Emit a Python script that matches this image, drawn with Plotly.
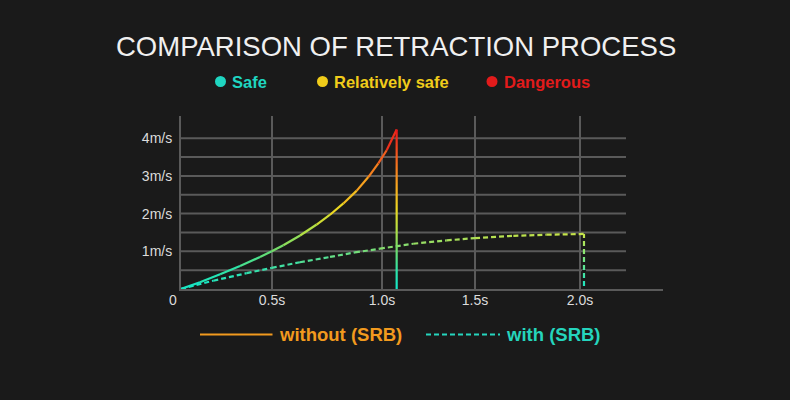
import plotly.graph_objects as go
from plotly.colors import sample_colorscale

# Farben
BG = "#1a1a1a"
GRID = "#5a5a5a"
TXT = "#dcdcdc"
C_SAFE = "#1fd6c1"
C_REL = "#f0cc1a"
C_DANGER = "#e21b1b"
C_ORANGE = "#f29a1e"
C_TEAL = "#25d5bd"

# Daten, Zeit in s, Geschwindigkeit in m/s
t_without = [0.0, 0.095, 0.196, 0.296, 0.396, 0.455, 0.513, 0.597, 0.680, 0.747,
             0.814, 0.881, 0.939, 0.989, 1.031, 1.081]
v_without = [0.0, 0.18, 0.39, 0.61, 0.85, 1.0, 1.16, 1.42, 1.71, 1.97,
             2.27, 2.61, 2.97, 3.33, 3.68, 4.23]

t_with = [0.0, 0.162, 0.329, 0.455, 0.596, 0.747, 0.872, 0.997, 1.164, 1.332,
          1.474, 1.666, 1.833, 2.020]
v_with = [0.0, 0.22, 0.42, 0.56, 0.71, 0.85, 0.97, 1.07, 1.20, 1.29,
          1.35, 1.41, 1.44, 1.46]

x_ticks = [0.456, 1.0075, 1.474, 2.0]
x_labels = ["0.5s", "1.0s", "1.5s", "2.0s"]
y_ticks = [1, 2, 3, 4]
y_labels = ["1m/s", "2m/s", "3m/s", "4m/s"]
grid_levels = [0.5, 1.0, 1.5, 2.0, 2.5, 3.0, 3.5, 4.0]

scale_without = [[0.0, "#14e6c8"], [0.12, "#2fe3a6"], [0.24, "#6ddc6e"], [0.38, "#b8e042"],
                 [0.5, "#ecd822"], [0.65, "#f7a51f"], [0.8, "#f46a1e"], [1.0, "#e8141b"]]
scale_with = [[0.0, "#14e6c8"], [0.25, "#3fe0a4"], [0.5, "#80dc72"], [0.75, "#b4e052"],
              [1.0, "#c8e448"]]

# Plotbereich in Pixeln
L, R, T, B = 181, 127, 116, 111
W, H = 790 - L - R, 400 - T - B
PX_S = 2.0 / 399        # Sekunden pro Pixel
PX_V = 1 / 37.7         # m/s pro Pixel


def px(x):
    return (x - L) / W


def py(y):
    return (400 - B - y) / H


fig = go.Figure()

# gestrichelte Kurve (mit SRB), Farbe entlang der Zeit
vmax_w = v_with[-1]
for i in range(len(t_with) - 1):
    f = (t_with[i] + t_with[i + 1]) / 2 / t_with[-1]
    fig.add_trace(go.Scatter(
        x=t_with[i:i + 2], y=v_with[i:i + 2], mode="lines",
        line=dict(color=sample_colorscale(scale_with, f)[0], width=2.2, dash="5px,3px"),
        hoverinfo="skip", showlegend=False))

tw = t_with[-1]
hw = 1.1 * PX_S
fig.add_trace(go.Scatter(
    x=[tw - hw, tw + hw, tw + hw, tw - hw, tw - hw], y=[0, 0, vmax_w, vmax_w, 0],
    mode="none", fill="toself",
    fillgradient=dict(type="vertical", colorscale=[[0, "#14e6c8"], [1, "#c8e448"]],
                      start=0, stop=vmax_w),
    hoverinfo="skip", showlegend=False))
fig.add_trace(go.Scatter(
    x=[tw, tw], y=[0, vmax_w], mode="lines",
    line=dict(color=BG, width=4, dash="3px,5px"),
    hoverinfo="skip", showlegend=False))

# durchgezogene Kurve (ohne SRB), Farbe nach Geschwindigkeit
vmax = v_without[-1]
for i in range(len(t_without) - 1):
    f = (v_without[i] + v_without[i + 1]) / 2 / vmax
    fig.add_trace(go.Scatter(
        x=t_without[i:i + 2], y=v_without[i:i + 2], mode="lines",
        line=dict(color=sample_colorscale(scale_without, f)[0], width=2.2),
        hoverinfo="skip", showlegend=False))

tp = t_without[-1]
fig.add_trace(go.Scatter(
    x=[tp - hw, tp + hw, tp + hw, tp - hw, tp - hw], y=[0, 0, vmax, vmax, 0],
    mode="none", fill="toself",
    fillgradient=dict(type="vertical", colorscale=scale_without, start=0, stop=vmax),
    hoverinfo="skip", showlegend=False))

# horizontale Gitterlinien (enden vor der Achse)
shapes = []
for g in grid_levels:
    shapes.append(dict(type="line", xref="x", yref="y", x0=0, x1=(626 - L) * PX_S,
                       y0=g, y1=g, line=dict(color=GRID, width=2), layer="below"))

# Legende oben
for xc, col in [(220.5, C_SAFE), (322.5, C_REL), (492, C_DANGER)]:
    shapes.append(dict(type="circle", xref="paper", yref="paper",
                       xsizemode="pixel", ysizemode="pixel",
                       xanchor=px(xc), yanchor=py(81.5), x0=-5.5, x1=5.5, y0=-5.5, y1=5.5,
                       fillcolor=col, line=dict(width=0)))
# Legende unten
shapes.append(dict(type="line", xref="paper", yref="paper", x0=px(200), x1=px(272.5),
                   y0=py(334.5), y1=py(334.5), line=dict(color=C_ORANGE, width=2)))
shapes.append(dict(type="line", xref="paper", yref="paper", x0=px(426), x1=px(500),
                   y0=py(334.5), y1=py(334.5), line=dict(color=C_TEAL, width=2, dash="5px,3px")))

annotations = [
    dict(text="COMPARISON OF RETRACTION PROCESS", xref="paper", yref="paper",
         x=px(396), y=py(46), xanchor="center", yanchor="middle", showarrow=False,
         font=dict(family="Liberation Sans, Arial", size=27.5, color="#f0f0f0")),
    dict(text="0", xref="paper", yref="paper", x=px(172.5), y=py(299.5),
         xanchor="center", yanchor="middle", showarrow=False,
         font=dict(family="Liberation Sans, Arial", size=14, color=TXT)),
]
for xl, txt, col in [(230, "Safe", C_SAFE), (332, "Relatively safe", C_REL), (502, "Dangerous", C_DANGER)]:
    annotations.append(dict(text="<b>%s</b>" % txt, xref="paper", yref="paper",
                            x=px(xl), y=py(81.5), xanchor="left", yanchor="middle",
                            showarrow=False,
                            font=dict(family="Liberation Sans, Arial", size=16.5, color=col)))
for xl, txt, col in [(277, "without (SRB)", C_ORANGE), (504, "with (SRB)", C_TEAL)]:
    annotations.append(dict(text="<b>%s</b>" % txt, xref="paper", yref="paper",
                            x=px(xl), y=py(334.5), xanchor="left", yanchor="middle",
                            showarrow=False,
                            font=dict(family="Liberation Sans, Arial", size=18.5, color=col)))

fig.update_layout(
    width=790, height=400,
    margin=dict(l=L, r=R, t=T, b=B),
    paper_bgcolor=BG, plot_bgcolor=BG,
    shapes=shapes, annotations=annotations,
    font=dict(family="Liberation Sans, Arial", color=TXT),
    xaxis=dict(range=[0, W * PX_S], tickvals=x_ticks, ticktext=x_labels,
               showgrid=True, gridcolor=GRID, gridwidth=2, zeroline=False,
               showline=True, linecolor=GRID, linewidth=2,
               ticks="", ticklabelstandoff=-3, tickfont=dict(size=14, color=TXT),
               fixedrange=True),
    yaxis=dict(range=[0, H * PX_V], tickvals=y_ticks, ticktext=y_labels,
               showgrid=False, zeroline=False,
               showline=True, linecolor=GRID, linewidth=2,
               ticks="", ticklabelstandoff=4, tickfont=dict(size=14, color=TXT),
               fixedrange=True),
)

# Seitenrand entfernen, damit die Grafik bei 0,0 beginnt
fig.write_html("out.html", config={"displayModeBar": False},
               post_script="document.body.style.margin='0px';")
